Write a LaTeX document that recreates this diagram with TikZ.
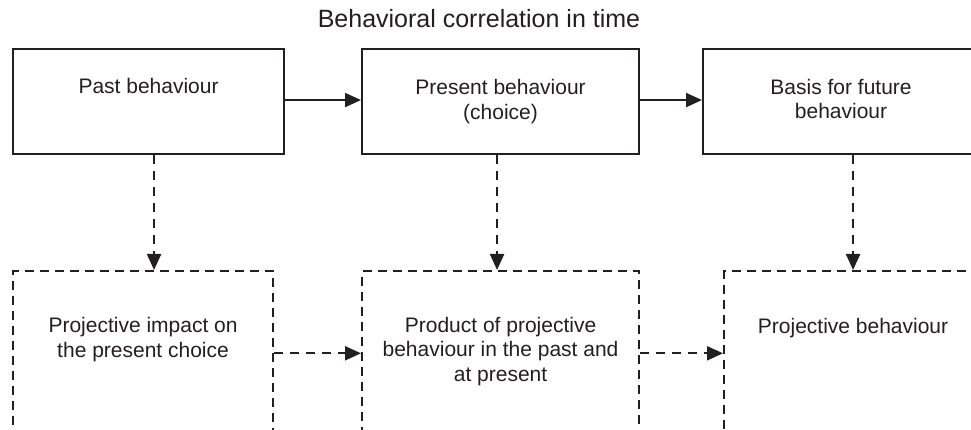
\documentclass[tikz,border=0pt]{standalone}
\usepackage{fontspec}
\setmainfont{Liberation Sans}
\usetikzlibrary{arrows.meta}
\definecolor{ink}{HTML}{231F20}
\begin{document}
\begin{tikzpicture}[x=1pt,y=-1pt,
  box/.style={draw=ink,line width=2.1pt,rectangle,inner sep=0pt,anchor=north west},
  dbox/.style={box,dash pattern=on 9pt off 6pt},
  label/.style={text=ink,anchor=base,align=center,inner sep=0pt,
    font=\fontsize{21}{24.5}\selectfont},
  link/.style={draw=ink,line width=2.1pt,-{Triangle[length=16pt,width=14pt]}},
  dlink/.style={link,dash pattern=on 9pt off 7pt}]
  \clip (0,0) rectangle (971,430);
  \useasboundingbox (0,0) rectangle (971,430);

  % title
  \node[label,font=\fontsize{25}{29}\selectfont] (title) at (479,28) {Behavioral correlation in time};

  % upper row: observed behaviour
  \node[box,minimum width=271pt,minimum height=105pt] (past)  at (12,48)  {};
  \node[box,minimum width=277pt,minimum height=105pt] (pres)  at (361,48) {};
  \node[box,minimum width=276pt,minimum height=105pt] (basis) at (702,48) {};

  % lower row: projective behaviour
  \node[dbox,minimum width=260pt,minimum height=160.5pt] (projimp) at (12,270)  {};
  \node[dbox,minimum width=277pt,minimum height=160.5pt] (product) at (361,270) {};
  \node[dbox,minimum width=258pt,minimum height=160.5pt] (projbeh) at (723,270) {};

  % box texts (anchored on the baseline of their last line)
  \node[label] (tpast)  at ([yshift=-46pt]past.north)  {Past behaviour};
  \node[label] (tpres)  at ([yshift=-71.5pt]pres.north)  {Present behaviour\\(choice)};
  \node[label] (tbasis) at ([yshift=-71pt]basis.north) {Basis for future\\behaviour};
  \node[label] (timp)   at ([yshift=-87pt]projimp.north) {Projective impact on\\the present choice};
  \node[label] (tprod)  at ([yshift=-111pt]product.north) {Product of projective\\behaviour in the past and\\at present};
  \node[label] (tbeh)   at ([yshift=-63pt]projbeh.north) {Projective behaviour};

  % solid arrows along the time line
  \draw[link] ([yshift=1.5pt]past.east) -- ([yshift=1.5pt]pres.west);
  \draw[link] ([yshift=1.5pt]pres.east) -- ([yshift=1.5pt]basis.west);

  % dashed arrows down to the projective row
  \draw[dlink] ([xshift=5.5pt]past.south) -- ([xshift=11pt]projimp.north);
  \draw[dlink] ([xshift=-3.5pt]pres.south) -- ([xshift=-3.5pt]product.north);
  \draw[dlink] (basis.south -| projbeh.north) -- (projbeh.north);

  % dashed arrows along the projective row
  \draw[dlink] ([yshift=-2pt]projimp.east) -- ([yshift=-2pt]product.west);
  \draw[dlink] ([yshift=-2pt]product.east) -- ([yshift=-2pt]projbeh.west);
\end{tikzpicture}
\end{document}
